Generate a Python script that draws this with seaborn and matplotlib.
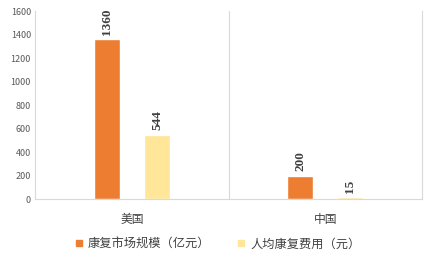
import matplotlib
matplotlib.use("Agg")
import matplotlib.pyplot as plt
import seaborn as sns
import pandas as pd
from matplotlib.lines import Line2D

countries = ["美国", "中国"]
series_names = ["康复市场规模（亿元）", "人均康复费用（元）"]
market_size = [1360, 200]
per_capita = [544, 15]
colors = ["#ED7D31", "#FFE699"]
yticks = [0, 200, 400, 600, 800, 1000, 1200, 1400, 1600]

df = pd.DataFrame({
    "country": countries * 2,
    "series": [series_names[0]] * 2 + [series_names[1]] * 2,
    "value": market_size + per_capita,
})

sns.set_style("white")
plt.rcParams['font.family'] = ['Noto Sans CJK SC', 'DejaVu Sans']

fig = plt.figure(figsize=(4.34, 2.64), dpi=100)
ax = fig.add_axes([0.081, 0.246, 0.891, 0.712])

sns.barplot(data=df, x="country", y="value", hue="series", order=countries,
            hue_order=series_names, palette=colors, width=0.52, gap=0.48,
            saturation=1, ax=ax, legend=False)

ax.set_xlim(-0.5, 1.5)
ax.set_ylim(0, 1600)
ax.set_yticks(yticks)
ax.set_yticklabels([str(v) for v in yticks], fontsize=6.5, color="#595959")
ax.tick_params(axis="y", length=0, pad=3)
ax.tick_params(axis="x", length=0, pad=10, labelsize=8.5, labelcolor="#404040")
ax.set_xlabel("")
ax.set_ylabel("")

ax.spines["top"].set_visible(False)
for s in ["left", "right", "bottom"]:
    ax.spines[s].set_color("#D9D9D9")
    ax.spines[s].set_linewidth(0.8)
ax.axvline(0.5, color="#D9D9D9", lw=0.8)

for cont in ax.containers:
    for bar in cont:
        h = bar.get_height()
        ax.text(bar.get_x() + bar.get_width() / 2, h + 40, f"{int(h)}",
                rotation=90, ha="center", va="bottom", fontsize=9.5,
                fontweight="bold", family=["Liberation Serif", "DejaVu Serif"],
                color="#404040")

handles = [Line2D([0], [0], marker="s", linestyle="", markersize=4.5,
                  markerfacecolor=c, markeredgecolor=c) for c in colors]
fig.legend(handles, series_names, loc="center", bbox_to_anchor=(0.5, 0.075),
           ncol=2, frameon=False, fontsize=8.8, handlelength=0.8,
           handletextpad=0.3, columnspacing=2.2, labelcolor="#404040")

fig.savefig("out.png", dpi=100)
